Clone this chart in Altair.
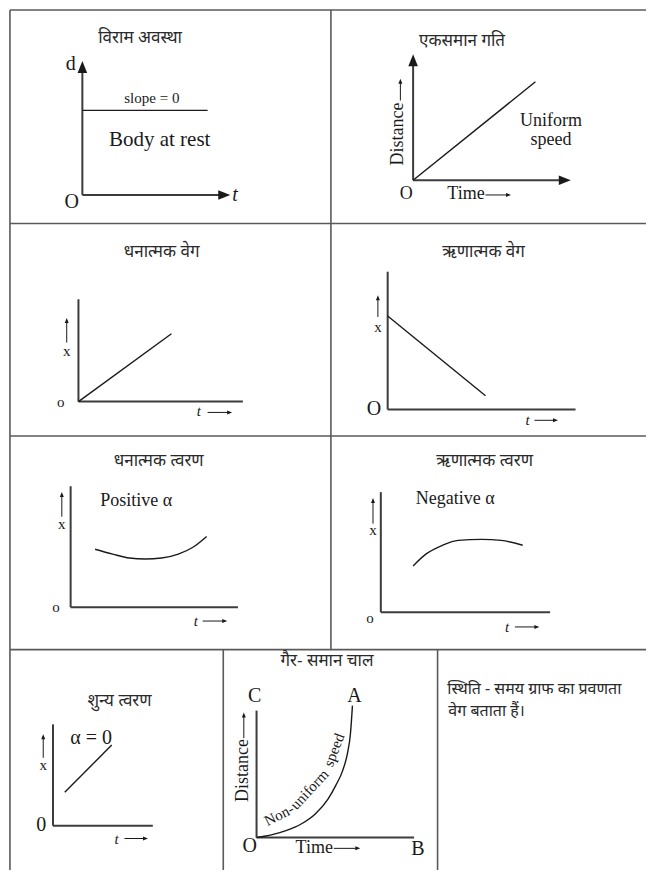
import altair as alt
import pandas as pd

# ---------------- data (diagram units: x to the right, y downward) ----------------
# table frame
frame_x1 = [5, 5, 5, 5, 5, 333, 223, 442]
frame_y1 = [5, 222, 438, 655, 5, 5, 655, 655]
frame_x2 = [655, 655, 655, 655, 5, 333, 223, 442]
frame_y2 = [5, 222, 438, 655, 879, 655, 879, 879]

# axes of the eight small graphs
axis_x1 = [79, 79, 417, 417, 75, 75, 391, 391, 67, 67, 384, 384, 49, 49, 257, 257]
axis_y1 = [193, 193, 178, 178, 403, 403, 411, 411, 612, 612, 617, 617, 834, 834, 846, 846]
axis_x2 = [79, 224, 417, 572, 75, 243, 391, 583, 67, 238, 384, 557, 49, 151, 257, 418]
axis_y2 = [63, 193, 56, 178, 299, 403, 271, 411, 489, 612, 495, 617, 731, 834, 717, 846]

# straight graphs: rest, uniform, +velocity, -velocity, zero acceleration
line_x1 = [79, 417, 75, 391, 61]
line_y1 = [107, 178, 403, 316, 800]
line_x2 = [207, 542, 170, 491, 109]
line_y2 = [107, 78, 334, 397, 752]

# curved graphs
pos_acc_t = [92, 110, 127, 143, 160, 177, 192, 206]
pos_acc_x = [553, 558, 562, 563, 562, 558, 551, 540]
neg_acc_t = [417, 430, 447, 463, 487, 507, 529]
neg_acc_x = [570, 558, 549, 544, 543, 544, 549]
nonuni_t = [257, 273, 287, 303, 317, 330, 338, 345, 350, 353, 355]
nonuni_x = [846, 843, 839, 832, 822, 807, 793, 778, 760, 740, 712]

# big arrow heads on axes
head_x = [79, 224, 417, 572]
head_y = [63, 193, 56, 178]
head_dir = [0, 90, 0, 90]

# small label arrows
up_arrow_x = [404, 63, 381, 58, 376, 39, 244]
up_arrow_base = [97, 343, 317, 520, 527, 765, 745]
up_arrow_tip = [75, 318, 295, 495, 501, 741, 719]
right_arrow_y = [193, 414, 422, 626, 632, 847, 857]
right_arrow_base = [491, 207, 541, 202, 521, 122, 336]
right_arrow_tip = [517, 232, 565, 227, 546, 146, 363]

# Hindi titles
title_text = ["विराम अवस्था", "एकसमान गति", "धनात्मक वेग", "ऋणात्मक वेग",
              "धनात्मक त्वरण", "ऋणात्मक त्वरण", "शुन्य त्वरण", "गैर- समान चाल"]
title_x = [138, 467, 160, 489, 157, 490, 117, 329]
title_y = [33, 37, 251, 251, 463, 463, 707, 667]

note_text = ["स्थिति - समय ग्राफ का प्रवणता", "वेग बताता हैं।"]
note_x = [452, 453]
note_y = [695, 717]

# serif labels
big_text = ["O", "O", "C", "A", "O", "B", "0", "α = 0", "d"]
big_x = [68, 377, 255, 357, 250, 422, 37, 88, 67]
big_y = [200, 411, 702, 702, 855, 858, 833, 745, 60]

mid_text = ["Uniform", "speed", "Time", "Time", "Positive α", "Negative α", "O"]
mid_x = [558, 558, 471, 316, 134, 460, 410]
mid_y = [118, 137, 192, 857, 504, 502, 192]

small_text = ["x", "x", "x", "x", "x", "o", "o", "o", "slope = 0"]
small_x = [63, 381, 58, 376, 39, 57, 52, 373, 150]
small_y = [352, 327, 527, 533, 772, 403, 612, 623, 94]

t_text = ["t", "t", "t", "t", "t"]
t_x = [198, 534, 195, 513, 114]
t_y = [413, 422, 626, 632, 847]

t_big_text = ["t"]
t_big_x = [235]
t_big_y = [193]

dist_text = ["Distance", "Distance"]
dist_x = [402, 243]
dist_y = [131, 778]

body_text = ["Body at rest"]
body_x = [158]
body_y = [137]

# curved label along the non-uniform graph, in three pieces
curve_label = ["Non-", "uniform", "speed"]
curve_label_x = [280, 311, 336]
curve_label_y = [823, 797, 757]
curve_label_angle = [333, 313, 291]

# ---------------- chart ----------------
W, H = 639, 863
xs = alt.Scale(domain=[3, 655], nice=False, zero=False)
ys = alt.Scale(domain=[3, 879], nice=False, zero=False, reverse=True)
X = lambda f: alt.X(f, scale=xs, axis=None)
Y = lambda f: alt.Y(f, scale=ys, axis=None)
SERIF = "Liberation Serif, Times New Roman, DejaVu Serif, serif"

def seg_layer(x1, y1, x2, y2, color, width):
    df = pd.DataFrame({"x": x1, "y": y1, "x2": x2, "y2": y2})
    return alt.Chart(df).mark_rule(color=color, strokeWidth=width).encode(
        x=X("x:Q"), y=Y("y:Q"), x2="x2:Q", y2="y2:Q")

def text_layer(texts, xv, yv, size, font=SERIF, style="normal",
               weight="normal", angle=0, align="center", color="#1a1a1a"):
    df = pd.DataFrame({"x": xv, "y": yv, "label": texts})
    return alt.Chart(df).mark_text(fontSize=size, font=font, fontStyle=style,
                                   fontWeight=weight, angle=angle, align=align,
                                   baseline="middle", color=color).encode(
        x=X("x:Q"), y=Y("y:Q"), text="label:N")

frame = seg_layer(frame_x1, frame_y1, frame_x2, frame_y2, "#5a5a5a", 1.6)
axes = seg_layer(axis_x1, axis_y1, axis_x2, axis_y2, "#3c3c3c", 2.0)
lines = seg_layer(line_x1, line_y1, line_x2, line_y2, "#1a1a1a", 1.4)

curve_df = pd.concat([
    pd.DataFrame({"t": pos_acc_t, "x": pos_acc_x, "c": "pos", "o": range(len(pos_acc_t))}),
    pd.DataFrame({"t": neg_acc_t, "x": neg_acc_x, "c": "neg", "o": range(len(neg_acc_t))}),
    pd.DataFrame({"t": nonuni_t, "x": nonuni_x, "c": "non", "o": range(len(nonuni_t))}),
])
curves = alt.Chart(curve_df).mark_line(color="#1a1a1a", strokeWidth=1.4,
                                       interpolate="monotone").encode(
    x=X("t:Q"), y=Y("x:Q"), detail="c:N", order="o:Q")

arrow_shape = "M-0.8,1L0,-1L0.8,1Z"
heads = alt.Chart(pd.DataFrame({"x": head_x, "y": head_y, "a": head_dir})).mark_point(
    shape=arrow_shape, filled=True, color="#1a1a1a", size=144, opacity=1).encode(
    x=X("x:Q"), y=Y("y:Q"), angle=alt.Angle("a:Q", scale=None))

up_df = pd.DataFrame({"x": up_arrow_x, "y": up_arrow_base, "y2": up_arrow_tip})
up_df["hy"] = up_df["y2"] + 2.5
up_rules = alt.Chart(up_df).mark_rule(color="#1a1a1a", strokeWidth=1).encode(
    x=X("x:Q"), y=Y("y:Q"), y2="hy:Q")
up_heads = alt.Chart(up_df).mark_point(shape=arrow_shape, filled=True, color="#1a1a1a",
                                        size=25, opacity=1).encode(x=X("x:Q"), y=Y("hy:Q"))

rt_df = pd.DataFrame({"y": right_arrow_y, "x": right_arrow_base, "x2": right_arrow_tip})
rt_df["hx"] = rt_df["x2"] - 2.5
rt_rules = alt.Chart(rt_df).mark_rule(color="#1a1a1a", strokeWidth=1).encode(
    x=X("x:Q"), x2="hx:Q", y=Y("y:Q"))
rt_heads = alt.Chart(rt_df).mark_point(shape=arrow_shape, filled=True, color="#1a1a1a",
                                        size=25, opacity=1, angle=90).encode(
    x=X("hx:Q"), y=Y("y:Q"))

curve_lab_df = pd.DataFrame({"x": curve_label_x, "y": curve_label_y,
                             "label": curve_label, "a": curve_label_angle})
curve_lab = alt.Chart(curve_lab_df).mark_text(fontSize=15, font=SERIF, baseline="middle",
                                              align="center", color="#1a1a1a").encode(
    x=X("x:Q"), y=Y("y:Q"), text="label:N", angle=alt.Angle("a:Q", scale=None))

dev = "Noto Sans, Noto Sans Devanagari, sans-serif"
texts = [
    text_layer(title_text, title_x, title_y, 17, font=dev, color="#2a2a2a"),
    text_layer(note_text, note_x, note_y, 16, font=dev, align="left", color="#2a2a2a"),
    text_layer(big_text, big_x, big_y, 20),
    text_layer(mid_text, mid_x, mid_y, 18),
    text_layer(small_text, small_x, small_y, 15),
    text_layer(t_text, t_x, t_y, 15, style="italic"),
    text_layer(t_big_text, t_big_x, t_big_y, 20, style="italic"),
    text_layer(dist_text, dist_x, dist_y, 18, angle=270),
    text_layer(body_text, body_x, body_y, 21),
    curve_lab,
]

chart = alt.layer(frame, axes, lines, curves, heads, up_rules, up_heads,
                  rt_rules, rt_heads, *texts).properties(
    width=W, height=H,
    autosize=alt.AutoSizeParams(type="fit", contains="padding"),
    padding=0,
    background="white",
).configure_view(stroke=None)

chart.save("out.html", embed_options={"renderer": "svg", "actions": False})
